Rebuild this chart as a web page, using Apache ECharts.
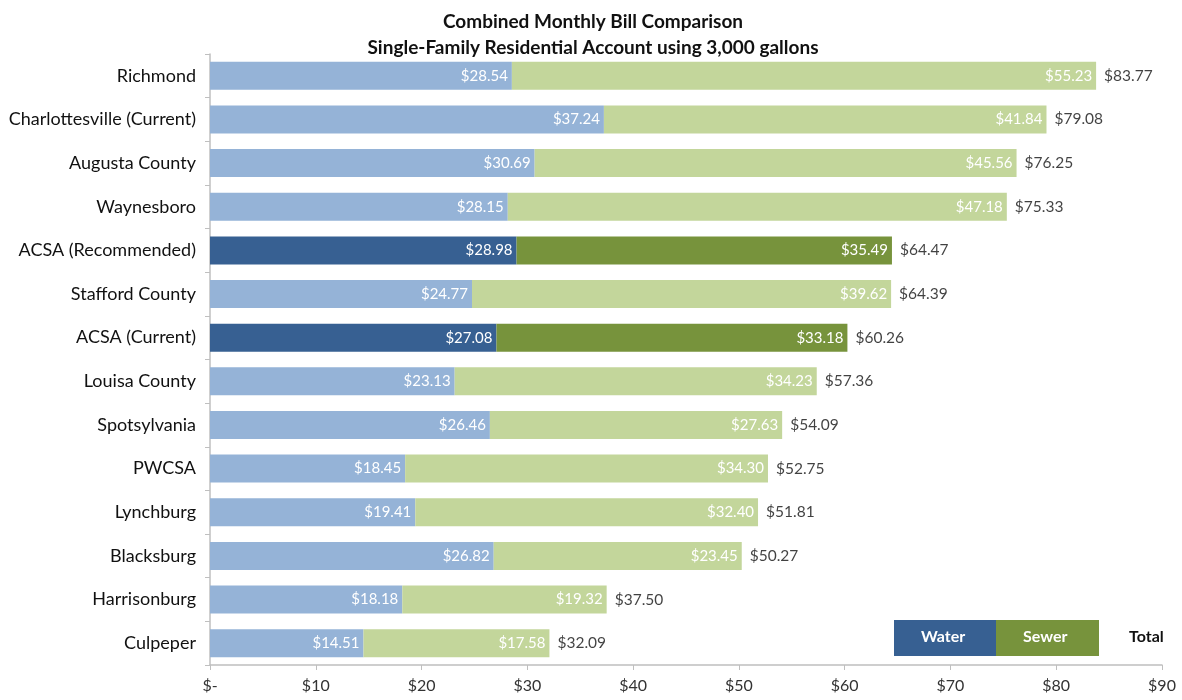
<!DOCTYPE html>
<html>
<head>
<meta charset="utf-8">
<script src="https://cdn.jsdelivr.net/npm/echarts@6/dist/echarts.min.js"></script>
<style>html,body{margin:0;padding:0;background:#fff;}#c{width:1182px;height:700px;}</style>
</head>
<body>
<div id="c"></div>
<script>
const categories = ["Richmond","Charlottesville (Current)","Augusta County","Waynesboro","ACSA (Recommended)","Stafford County","ACSA (Current)","Louisa County","Spotsylvania","PWCSA","Lynchburg","Blacksburg","Harrisonburg","Culpeper"];
const water = [28.54,37.24,30.69,28.15,28.98,24.77,27.08,23.13,26.46,18.45,19.41,26.82,18.18,14.51];
const sewer = [55.23,41.84,45.56,47.18,35.49,39.62,33.18,34.23,27.63,34.30,32.40,23.45,19.32,17.58];
const totals = [83.77,79.08,76.25,75.33,64.47,64.39,60.26,57.36,54.09,52.75,51.81,50.27,37.50,32.09];
const highlighted = ["ACSA (Recommended)","ACSA (Current)"];
const xTicks = [0,10,20,30,40,50,60,70,80,90];

const FONT = 'Lato, "Open Sans", sans-serif';
const C = {lw:'#95B3D7', ls:'#C3D69B', dw:'#376092', ds:'#77933C'};

const chart = echarts.init(document.getElementById('c'), null, {renderer:'canvas'});
const fmt = v => '$' + v.toFixed(2);
const bl = {show:true, position:'insideRight', distance:4, color:'#fff', fontFamily:FONT, fontSize:15, formatter:p=>fmt(p.value)};

chart.setOption({
  animation:false,
  title:{text:'Combined Monthly Bill Comparison\nSingle-Family Residential Account using 3,000 gallons', left:588, textAlign:'center', top:4,
    textStyle:{fontFamily:FONT, fontSize:19, fontWeight:'bold', color:'#111', lineHeight:26}},
  grid:{left:210, right:20, top:54, bottom:35},
  xAxis:{type:'value', min:xTicks[0], max:xTicks[xTicks.length-1], interval:10,
    axisLine:{show:true, lineStyle:{color:'#bfbfbf', width:1.5}},
    axisTick:{show:true, length:5, lineStyle:{color:'#bfbfbf'}},
    splitLine:{show:false},
    axisLabel:{fontFamily:FONT, fontSize:16, color:'#333', margin:13, formatter:v=> v===0 ? '$-' : '$'+v}},
  yAxis:{type:'category', data:categories, inverse:true,
    axisLine:{show:true, lineStyle:{color:'#bfbfbf', width:1.5}},
    axisTick:{show:true, length:5, lineStyle:{color:'#bfbfbf'}},
    axisLabel:{fontFamily:FONT, fontSize:18, color:'#111', margin:14}},
  series:[
    {name:'Water', type:'bar', stack:'t', barWidth:28,
      data:water.map((v,i)=>({value:v, itemStyle:{color: highlighted.includes(categories[i]) ? C.dw : C.lw}})),
      label:bl},
    {name:'Sewer', type:'bar', stack:'t', barWidth:28,
      data:sewer.map((v,i)=>({value:v, itemStyle:{color: highlighted.includes(categories[i]) ? C.ds : C.ls}})),
      label:bl},
    {name:'Total', type:'scatter', symbolSize:0,
      data:totals.map((v,i)=>[v, categories[i]]),
      label:{show:true, position:'right', distance:8, color:'#111', fontFamily:FONT, fontSize:15.5, formatter:p=>fmt(p.value[0])}}
  ],
  graphic:[
    {type:'rect', left:894, top:620, shape:{width:102, height:36}, style:{fill:C.dw}},
    {type:'rect', left:996, top:620, shape:{width:103, height:36}, style:{fill:C.ds}},
    {type:'text', left:921, top:629, style:{text:'Water', fill:'#fff', font:'bold 16px '+FONT}},
    {type:'text', left:1023, top:629, style:{text:'Sewer', fill:'#fff', font:'bold 16px '+FONT}},
    {type:'text', left:1129, top:629, style:{text:'Total', fill:'#111', font:'bold 16px '+FONT}}
  ]
});
</script>
</body>
</html>
